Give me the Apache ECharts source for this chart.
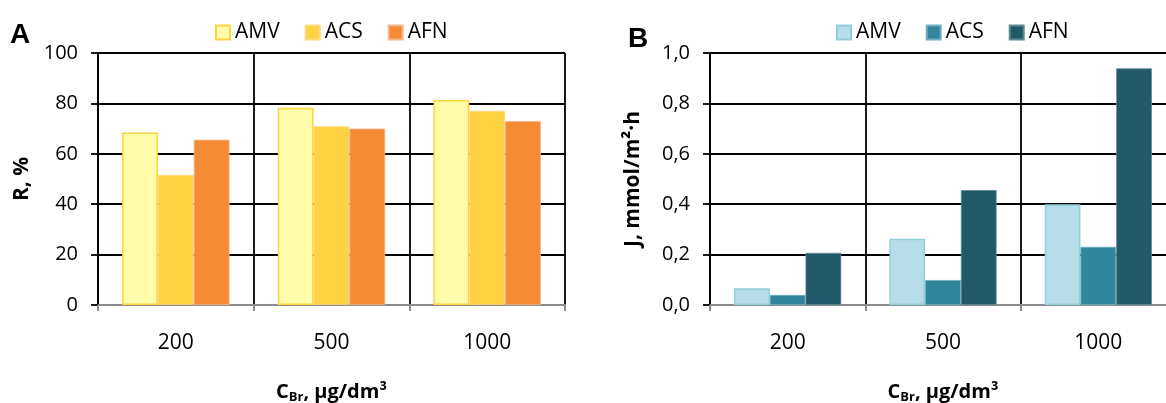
<!DOCTYPE html>
<html>
<head>
<meta charset="utf-8">
<script src="https://cdn.jsdelivr.net/npm/echarts@6/dist/echarts.min.js"></script>
<style>
  html, body { margin: 0; padding: 0; background: #fff; }
  #chart { width: 1166px; height: 403px; }
</style>
</head>
<body>
<div id="chart"></div>
<script>
// ---- Data ----
const categories = ['200', '500', '1000'];
const seriesNames = ['AMV', 'ACS', 'AFN'];

// Panel A: R, %
const rAMV = [68.5, 78.3, 81.3];
const rACS = [51.6, 70.9, 77.0];
const rAFN = [65.6, 70.0, 73.0];

// Panel B: J, mmol/m2·h
const jAMV = [0.066, 0.263, 0.40];
const jACS = [0.040, 0.099, 0.231];
const jAFN = [0.207, 0.456, 0.939];

// Tick labels
const yTicksA = ['0', '20', '40', '60', '80', '100'];
const yTicksB = ['0,0', '0,2', '0,4', '0,6', '0,8', '1,0'];

// ---- Styles ----
const FONT = 'Open Sans';
const colorsA = [
  { color: '#FFFDAA', borderColor: '#FFD23F', borderWidth: 1.5 },
  { color: '#FFD244', borderColor: '#FFD97A', borderWidth: 0.8 },
  { color: '#F58C33', borderColor: '#F8B58A', borderWidth: 0.8 }
];
const colorsB = [
  { color: '#B7DEE8', borderColor: '#92CDDC', borderWidth: 1.5 },
  { color: '#31869B', borderColor: '#6FAFC0', borderWidth: 0.8 },
  { color: '#215968', borderColor: '#5E8A96', borderWidth: 0.8 }
];

const chart = echarts.init(document.getElementById('chart'), null, { renderer: 'canvas' });

function xAxisCfg(gridIndex) {
  return {
    type: 'category',
    gridIndex: gridIndex,
    data: categories,
    boundaryGap: true,
    axisLine: { show: true, lineStyle: { color: '#8C8C8C', width: 2 } },
    axisTick: { show: true, length: 6, interval: 0, lineStyle: { color: '#8C8C8C', width: 2 } },
    axisLabel: { color: '#000', fontFamily: FONT, fontSize: 21, margin: 28 },
    splitLine: { show: true, interval: 0, lineStyle: { color: '#000', width: 1.8 } },
    name: '{a|C}{b|Br}{a|, µg/dm³}',
    nameLocation: 'middle',
    nameGap: 76,
    nameTextStyle: {
      rich: {
        a: { fontFamily: FONT, fontSize: 20, fontWeight: 'bold', color: '#000' },
        b: { fontFamily: FONT, fontSize: 13, fontWeight: 'bold', color: '#000', padding: [10, 0, 0, 0] }
      }
    }
  };
}

function yAxisCfg(gridIndex, ticks, name, nameGap) {
  return {
    type: 'value',
    gridIndex: gridIndex,
    min: 0,
    max: gridIndex === 0 ? 100 : 1,
    interval: gridIndex === 0 ? 20 : 0.2,
    axisLine: { show: true, lineStyle: { color: '#000', width: 2 } },
    axisTick: { show: true, length: 7, lineStyle: { color: '#000', width: 1.8 } },
    axisLabel: {
      color: '#000', fontFamily: FONT, fontSize: 20, margin: 20,
      formatter: function (v) {
        const step = gridIndex === 0 ? 20 : 0.2;
        return ticks[Math.round(v / step)];
      }
    },
    splitLine: { show: true, lineStyle: { color: '#000', width: 1.8 } },
    name: name,
    nameLocation: 'middle',
    nameRotate: 90,
    nameGap: nameGap,
    nameTextStyle: { fontFamily: FONT, fontSize: 21, fontWeight: 'bold', color: '#000' }
  };
}

const series = [];
seriesNames.forEach((n, i) => {
  series.push({
    name: n, type: 'bar', xAxisIndex: 0, yAxisIndex: 0,
    data: [rAMV, rACS, rAFN][i],
    barGap: '0%', barCategoryGap: '31%',
    itemStyle: colorsA[i]
  });
});
seriesNames.forEach((n, i) => {
  series.push({
    name: n + ' ', type: 'bar', xAxisIndex: 1, yAxisIndex: 1,
    data: [jAMV, jACS, jAFN][i],
    barGap: '0%', barCategoryGap: '31%',
    itemStyle: colorsB[i]
  });
});

const legendCommon = {
  orient: 'horizontal',
  icon: 'rect',
  itemWidth: 14, itemHeight: 14, itemGap: 25,
  top: 17,
  textStyle: { fontFamily: FONT, fontSize: 21, color: '#000', padding: [0, 0, 0, 0] },
  formatter: n => n.trim(),
  selectedMode: false
};

chart.setOption({
  animation: false,
  backgroundColor: '#fff',
  grid: [
    { left: 98, top: 53, width: 467, height: 252, containLabel: false, outerBoundsMode: 'none' },
    { left: 710, top: 53, width: 466, height: 252, containLabel: false, outerBoundsMode: 'none' }
  ],
  xAxis: [xAxisCfg(0), xAxisCfg(1)],
  yAxis: [
    yAxisCfg(0, yTicksA, 'R, %', 65),
    yAxisCfg(1, yTicksB, 'J, mmol/m²·h', 66)
  ],
  legend: [
    Object.assign({}, legendCommon, { left: 210, data: seriesNames }),
    Object.assign({}, legendCommon, { left: 831, data: seriesNames.map(n => n + ' ') })
  ],
  graphic: [
    { type: 'text', left: 10, top: 21, style: { text: 'A', fontFamily: 'Liberation Sans', fontSize: 28, fontWeight: 'bold', fill: '#000' } },
    { type: 'text', left: 628, top: 25, style: { text: 'B', fontFamily: 'Liberation Sans', fontSize: 28, fontWeight: 'bold', fill: '#000' } }
  ],
  series: series
});
</script>
</body>
</html>
